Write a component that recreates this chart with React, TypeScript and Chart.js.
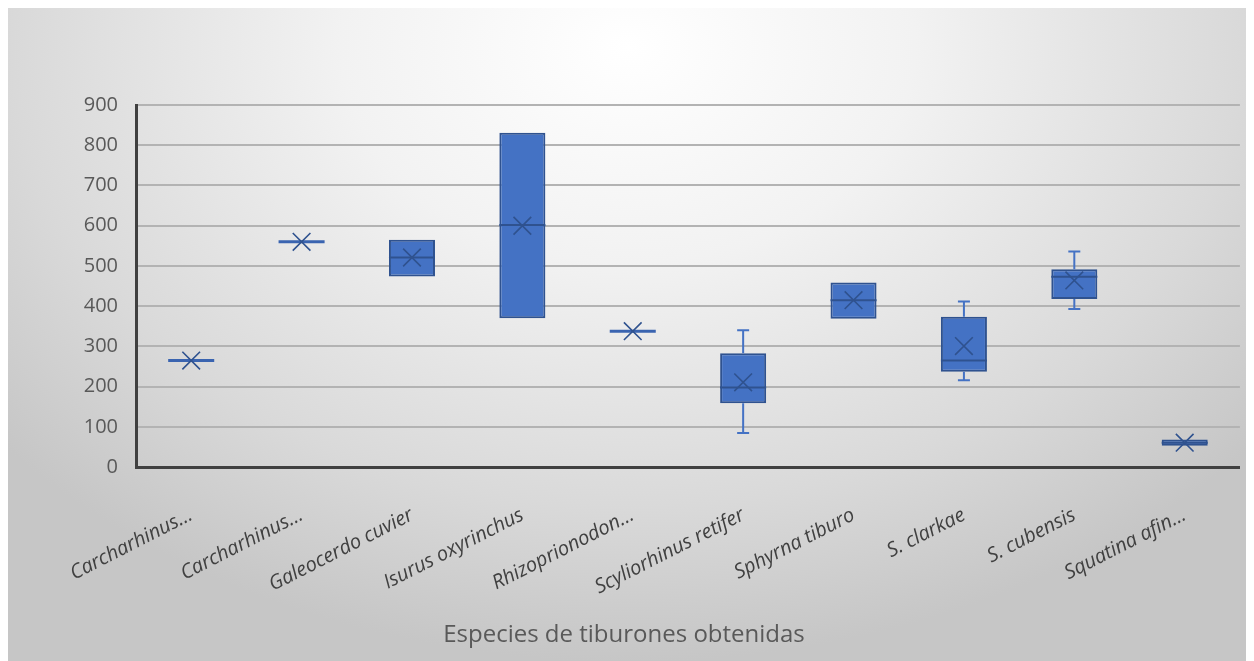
import React, { useEffect, useRef } from "react";
import { Chart, registerables } from "chart.js";

Chart.register(...registerables);

const categories = [
  "Carcharhinus…",
  "Carcharhinus…",
  "Galeocerdo cuvier",
  "Isurus oxyrinchus",
  "Rhizoprionodon…",
  "Scyliorhinus retifer",
  "Sphyrna tiburo",
  "S. clarkae",
  "S. cubensis",
  "Squatina afin…",
];
const minValues = [265, 560, 474, 370, 338, 85, 369, 216, 393, 53];
const q1Values = [265, 560, 474, 370, 338, 159, 369, 237, 418, 53];
const medianValues = [265, 560, 521, 602, 338, 198, 415, 265, 473, 61];
const q3Values = [265, 560, 565, 831, 338, 283, 459, 374, 492, 69];
const maxValues = [265, 560, 565, 831, 338, 340, 459, 412, 536, 69];
const meanValues = [265, 560, 521, 600, 338, 211, 415, 301, 464, 61];
const yTicks = [0, 100, 200, 300, 400, 500, 600, 700, 800, 900];
const axisTitle = "Especies de tiburones obtenidas";

const BOX_FILL = "#4472c4";
const BOX_EDGE = "#2f528f";

const backgroundPlugin = {
  id: "bgGradient",
  beforeDraw(chart: any) {
    const { ctx, width } = chart;
    ctx.save();
    ctx.translate(620, 40);
    ctx.scale(1, 0.75);
    const g = ctx.createRadialGradient(0, 0, 0, 0, 0, 820);
    g.addColorStop(0, "#ffffff");
    g.addColorStop(0.35, "#f2f2f2");
    g.addColorStop(0.75, "#d9d9d9");
    g.addColorStop(1, "#c6c6c6");
    ctx.fillStyle = g;
    ctx.fillRect(-700, -200, 1400, 1200);
    ctx.restore();
    ctx.save();
    ctx.strokeStyle = "#bfbfbf";
    ctx.lineWidth = 1;
    ctx.beginPath();
    ctx.moveTo(0, 0.5);
    ctx.lineTo(width, 0.5);
    ctx.stroke();
    ctx.restore();
  },
};

const boxPlotPlugin = {
  id: "boxExtras",
  afterDatasetDraw(chart: any, args: any) {
    if (args.index !== 0) return;
    const { ctx } = chart;
    const xs = chart.scales.x;
    const ys = chart.scales.y;
    const meta = chart.getDatasetMeta(0);
    ctx.save();
    categories.forEach((_, i) => {
      const bar = meta.data[i];
      const cx = xs.getPixelForValue(i);
      const half = bar ? bar.width / 2 : 23;
      const cap = 6;
      ctx.strokeStyle = BOX_FILL;
      ctx.lineWidth = 2;
      if (maxValues[i] > q3Values[i]) {
        const yTop = ys.getPixelForValue(maxValues[i]);
        const yQ3 = ys.getPixelForValue(q3Values[i]);
        ctx.beginPath();
        ctx.moveTo(cx, yQ3);
        ctx.lineTo(cx, yTop);
        ctx.moveTo(cx - cap, yTop);
        ctx.lineTo(cx + cap, yTop);
        ctx.stroke();
      }
      if (minValues[i] < q1Values[i]) {
        const yBot = ys.getPixelForValue(minValues[i]);
        const yQ1 = ys.getPixelForValue(q1Values[i]);
        ctx.beginPath();
        ctx.moveTo(cx, yQ1);
        ctx.lineTo(cx, yBot);
        ctx.moveTo(cx - cap, yBot);
        ctx.lineTo(cx + cap, yBot);
        ctx.stroke();
      }
      const ym = ys.getPixelForValue(medianValues[i]);
      const flat = q3Values[i] === q1Values[i];
      ctx.strokeStyle = flat ? "#3a64b0" : BOX_EDGE;
      ctx.lineWidth = flat ? 3 : 2;
      ctx.beginPath();
      ctx.moveTo(cx - half, ym);
      ctx.lineTo(cx + half, ym);
      ctx.stroke();
    });
    ctx.restore();
  },
};

export default function App() {
  const ref = useRef<HTMLCanvasElement | null>(null);

  useEffect(() => {
    if (!ref.current) return;
    const boxData = categories.map((_, i) => [q1Values[i], q3Values[i]]);
    const chart = new Chart(ref.current, {
      type: "bar",
      data: {
        labels: categories,
        datasets: [
          {
            type: "bar",
            label: "Caja",
            data: boxData as any,
            backgroundColor: BOX_FILL,
            borderColor: BOX_EDGE,
            borderWidth: 2,
            borderSkipped: false,
            barPercentage: 0.417,
            categoryPercentage: 1,
            order: 2,
          },
          {
            type: "line",
            label: "Media",
            data: meanValues,
            showLine: false,
            pointStyle: "crossRot",
            pointRadius: 12.5,
            pointBorderWidth: 1.6,
            pointBorderColor: BOX_EDGE,
            pointBackgroundColor: BOX_EDGE,
            borderColor: BOX_EDGE,
            order: 1,
          } as any,
        ],
      },
      options: {
        responsive: false,
        animation: false,
        events: [],
        layout: { padding: { left: 0, right: 14, top: 98, bottom: 0 } },
        plugins: {
          legend: { display: false },
          tooltip: { enabled: false },
          title: {
            display: true,
            position: "bottom",
            text: axisTitle,
            color: "#595959",
            font: { family: "'Open Sans'", size: 24, weight: "normal" },
            padding: { top: 0, bottom: 11 },
          },
        },
        scales: {
          x: {
            type: "category",
            offset: true,
            grid: { display: false, drawTicks: false },
            border: { display: true, color: "#404040", width: 3 },
            ticks: {
              autoSkip: false,
              minRotation: 27,
              maxRotation: 27,
              padding: 36,
              color: "#404040",
              font: { family: "'Open Sans'", size: 20, style: "italic" },
            },
            afterFit(scale: any) {
              scale.height = 154;
            },
          },
          y: {
            min: 0,
            max: 900,
            afterBuildTicks(scale: any) {
              scale.ticks = yTicks.map((v) => ({ value: v }));
            },
            grid: { color: "#b3b3b3", lineWidth: 2, drawTicks: false },
            border: { display: true, color: "#404040", width: 3 },
            ticks: {
              padding: 18,
              color: "#595959",
              font: { family: "'Open Sans'", size: 20 },
            },
            afterFit(scale: any) {
              scale.width = 128;
            },
          },
        },
      },
      plugins: [backgroundPlugin, boxPlotPlugin],
    } as any);
    return () => chart.destroy();
  }, []);

  return (
    <div style={{ marginTop: -1, width: 1246, height: 654 }}>
      <canvas ref={ref} width={1246} height={654} style={{ display: "block" }} />
    </div>
  );
}
